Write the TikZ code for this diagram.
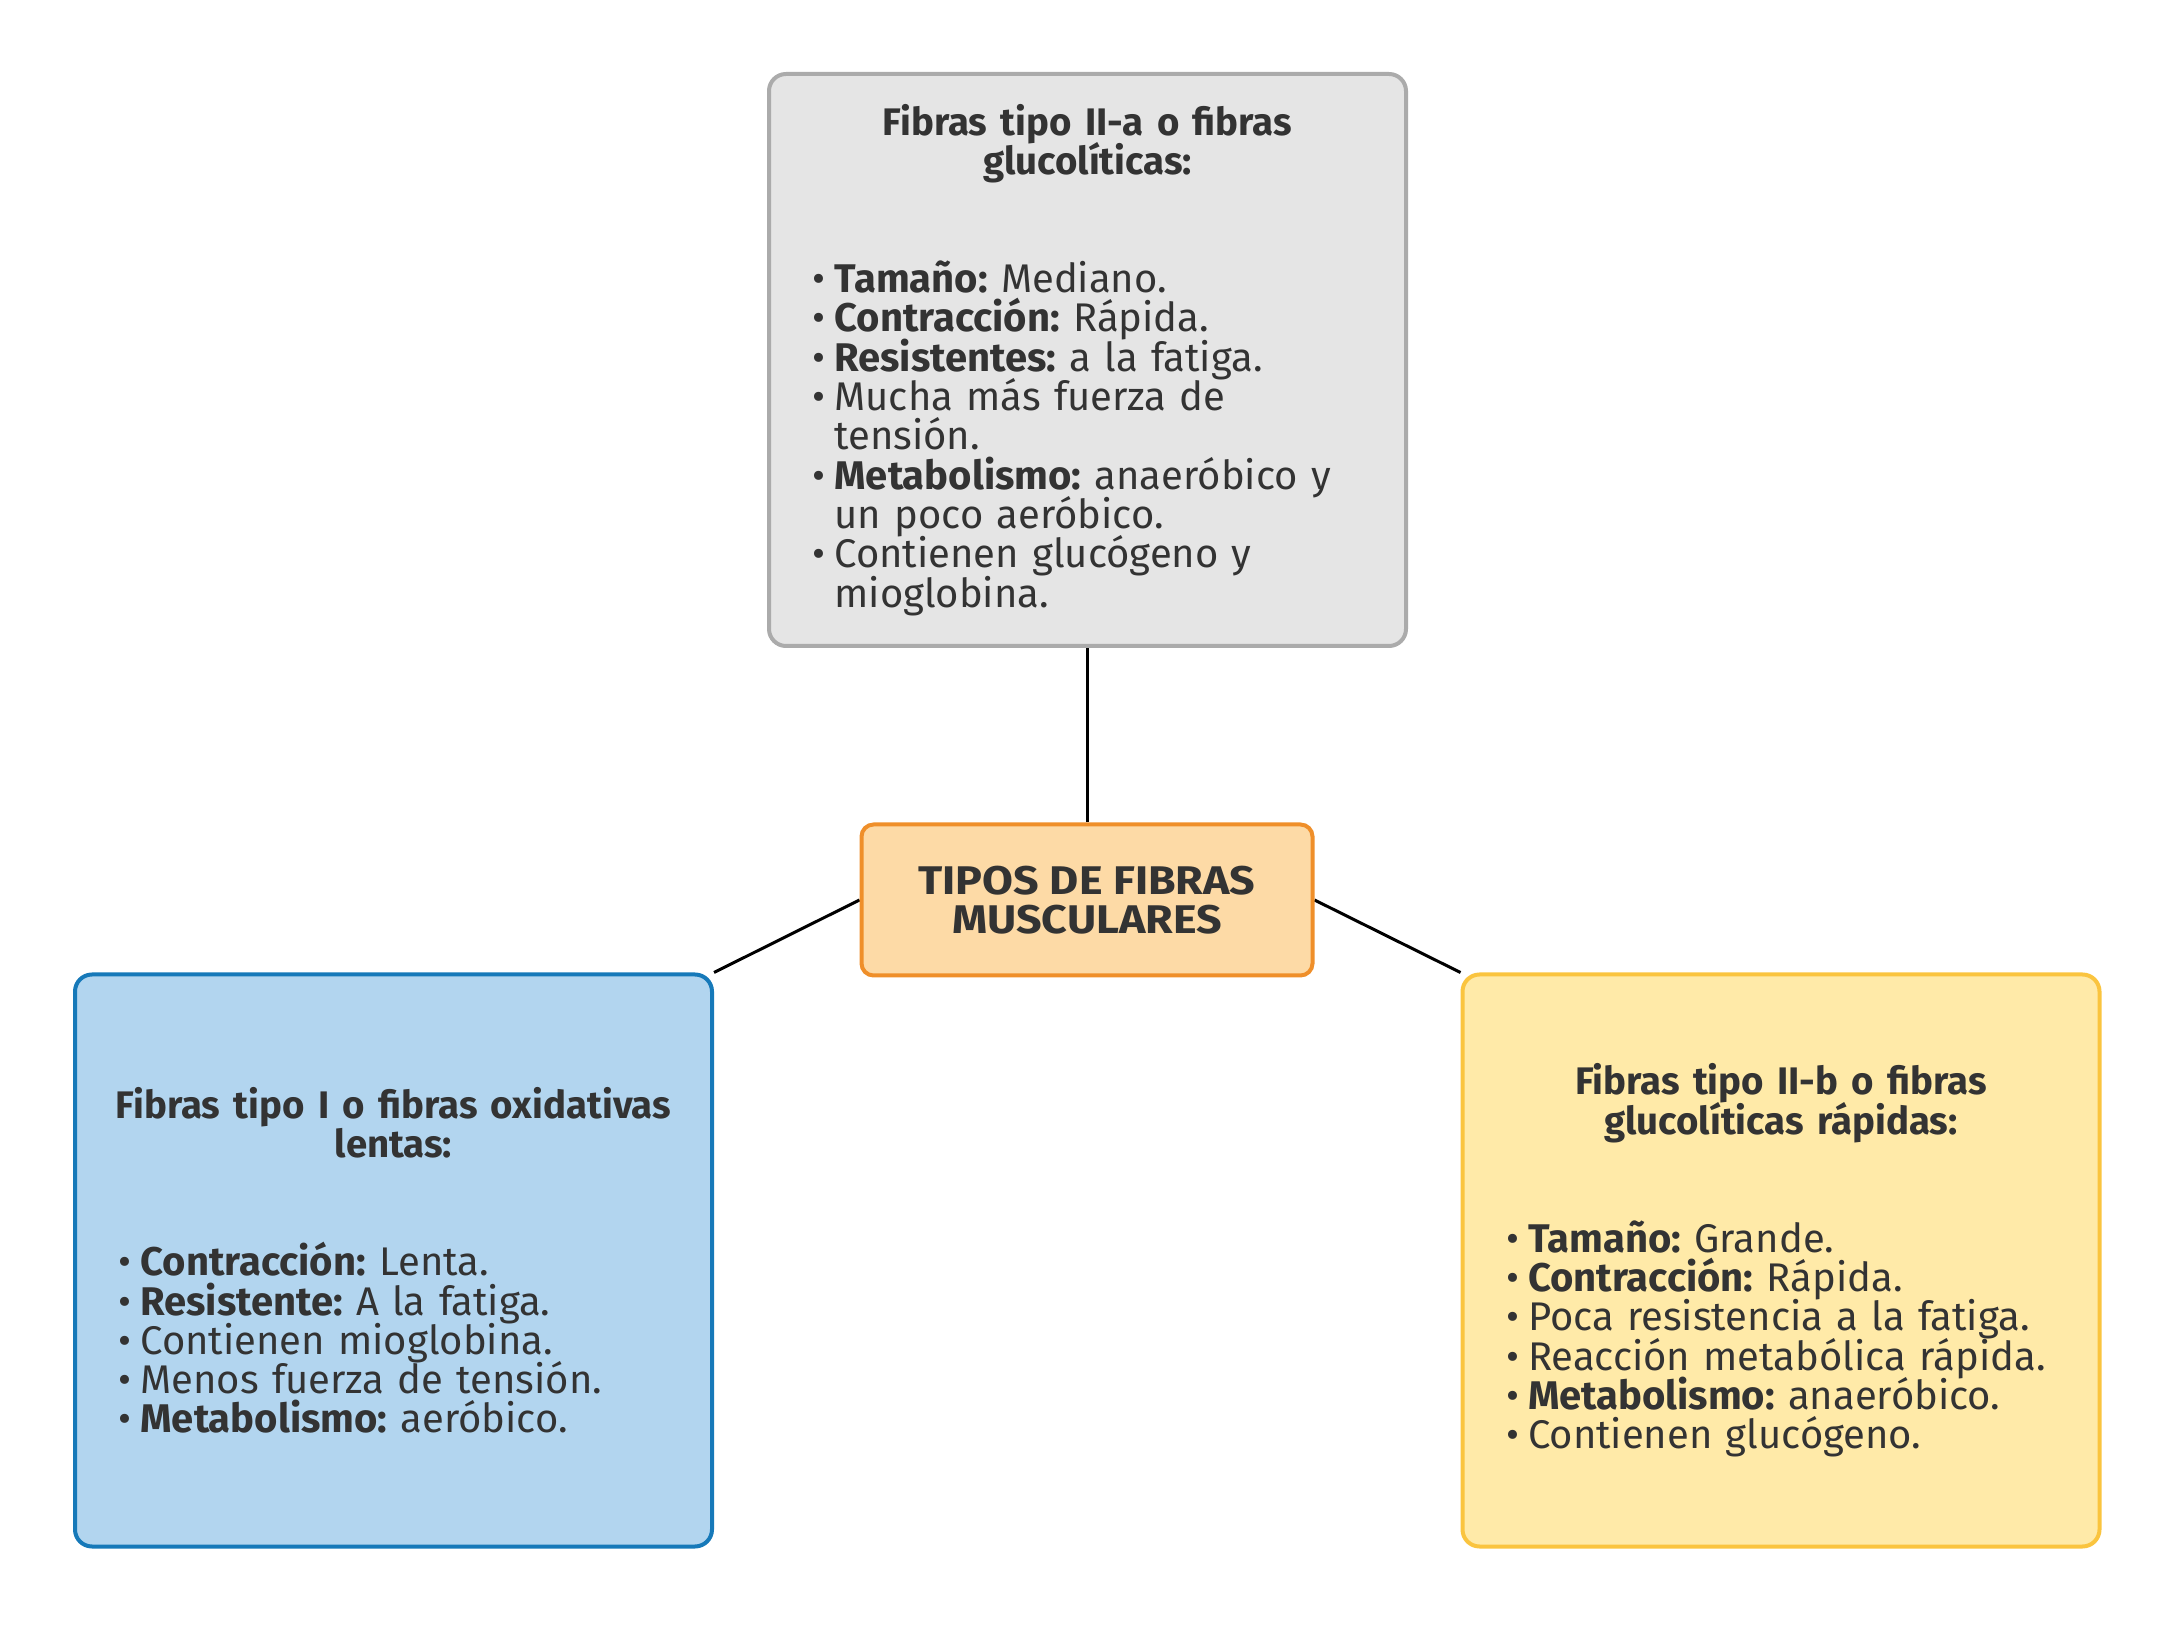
\documentclass[tikz,border=0pt]{standalone}
\usepackage{fontspec}
\setmainfont{Fira Sans}
\newfontfamily\titulofont{Fira Sans}[FakeStretch=1.12]
\usetikzlibrary{backgrounds}
\definecolor{ink}{HTML}{333333}
\definecolor{grisfondo}{HTML}{E5E5E5}
\definecolor{grisborde}{HTML}{ABABAB}
\definecolor{naranjafondo}{HTML}{FDDAA6}
\definecolor{naranjaborde}{HTML}{EF8F2A}
\definecolor{azulfondo}{HTML}{B2D5EF}
\definecolor{azulborde}{HTML}{1679B9}
\definecolor{amarillofondo}{HTML}{FFEAA8}
\definecolor{amarilloborde}{HTML}{FAC43F}

\newcommand{\punto}[1]{\hangindent=11pt\hangafter=1\noindent\makebox[11pt][l]{\textbullet}#1\par}
\newcommand{\encabezado}[2]{%
    \parskip=0pt\lineskiplimit=-20pt\lineskip=0pt
    \noindent\makebox[\linewidth]{\fontsize{19.2}{19.65}\selectfont\bfseries #1}\par
    \noindent\makebox[\linewidth]{\fontsize{19.2}{19.65}\selectfont\bfseries #2}\par
    \vspace{2\baselineskip}}

\begin{document}
\frenchspacing
\begin{tikzpicture}[
    x=1pt, y=1pt,
    caja/.style={rounded corners=8.5pt, line width=2pt, text=ink,
        inner xsep=21.5pt, inner ysep=0pt, text width=275pt,
        minimum width=318.5pt, minimum height=286pt,
        font=\fontsize{20}{19.65}\selectfont},
    conector/.style={draw=black, line width=1.5pt}]

    \useasboundingbox (0,0) rectangle (1087.5,812);

    \node[caja, fill=grisfondo, draw=grisborde] (tipoIIa) at (543.75,632) {%
        \encabezado{Fibras tipo II-a o fibras}{glucolíticas:}
        \punto{\textbf{Tamaño:} Mediano.}
        \punto{\textbf{Contracción:} Rápida.}
        \punto{\textbf{Resistentes:} a la fatiga.}
        \punto{Mucha más fuerza de\newline tensión.}
        \punto{\textbf{Metabolismo:} anaeróbico y\newline un poco aeróbico.}
        \punto{Contienen glucógeno y\newline mioglobina.}};

    \node[rounded corners=6pt, line width=2pt, text=ink, fill=naranjafondo, draw=naranjaborde,
        minimum width=225.5pt, minimum height=75.5pt, align=center,
        font=\titulofont\fontsize{20}{19.65}\selectfont\bfseries] (tipos) at (543.5,362)
        {TIPOS DE FIBRAS\\MUSCULARES};

    \node[caja, fill=azulfondo, draw=azulborde] (tipoI) at (196.75,181.75) {%
        \encabezado{Fibras tipo I o fibras oxidativas}{lentas:}
        \punto{\textbf{Contracción:} Lenta.}
        \punto{\textbf{Resistente:} A la fatiga.}
        \punto{Contienen mioglobina.}
        \punto{Menos fuerza de tensión.}
        \punto{\textbf{Metabolismo:} aeróbico.}};

    \node[caja, fill=amarillofondo, draw=amarilloborde] (tipoIIb) at (890.5,181.75) {%
        \encabezado{Fibras tipo II-b o fibras}{glucolíticas rápidas:}
        \punto{\textbf{Tamaño:} Grande.}
        \punto{\textbf{Contracción:} Rápida.}
        \punto{Poca resistencia a la fatiga.}
        \punto{Reacción metabólica rápida.}
        \punto{\textbf{Metabolismo:} anaeróbico.}
        \punto{Contienen glucógeno.}};

    % conectores
    \begin{scope}[on background layer]
        \draw[conector] (tipos.north) -- (tipos.north |- tipoIIa.south);
        \draw[conector] (tipos.west) -- (tipoI.north east);
        \draw[conector] (tipos.east) -- (tipoIIb.north west);
    \end{scope}

\end{tikzpicture}
\end{document}
